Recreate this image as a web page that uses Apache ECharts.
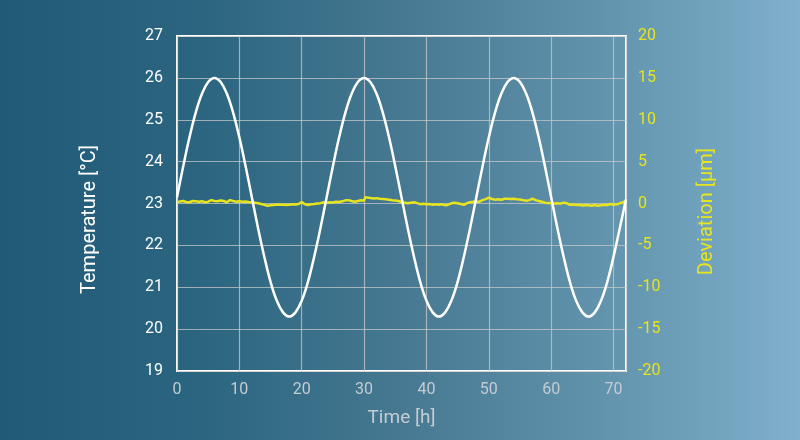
<!DOCTYPE html>
<html>
<head>
<meta charset="utf-8">
<script src="https://cdn.jsdelivr.net/npm/echarts@6/dist/echarts.min.js"></script>
<style>
  html, body { margin: 0; padding: 0; }
  #chart { width: 800px; height: 440px; }
</style>
</head>
<body>
<div id="chart"></div>
<script>
// temperature (0..72 h)
var hours = [
  0, 1, 2, 3, 4, 5, 6, 7, 8, 9, 10, 11, 12, 13, 14, 15, 16, 17, 18, 19, 20, 21, 22, 23,
  24, 25, 26, 27, 28, 29, 30, 31, 32, 33, 34, 35, 36, 37, 38, 39, 40, 41, 42, 43, 44, 45, 46, 47,
  48, 49, 50, 51, 52, 53, 54, 55, 56, 57, 58, 59, 60, 61, 62, 63, 64, 65, 66, 67, 68, 69, 70, 71, 72
];
var temperature = [
  23.15, 23.89, 24.58, 25.17, 25.62, 25.90, 26.00, 25.90, 25.62, 25.17, 24.58, 23.89,
  23.15, 22.41, 21.73, 21.13, 20.68, 20.40, 20.30, 20.40, 20.68, 21.13, 21.73, 22.41,
  23.15, 23.89, 24.58, 25.17, 25.62, 25.90, 26.00, 25.90, 25.62, 25.17, 24.58, 23.89,
  23.15, 22.41, 21.73, 21.13, 20.68, 20.40, 20.30, 20.40, 20.68, 21.13, 21.73, 22.41,
  23.15, 23.89, 24.58, 25.17, 25.62, 25.90, 26.00, 25.90, 25.62, 25.17, 24.58, 23.89,
  23.15, 22.41, 21.73, 21.13, 20.68, 20.40, 20.30, 20.40, 20.68, 21.13, 21.73, 22.41,
  23.10
];

// deviation samples (µm), roughly every half hour
var devTime = [
  0, 0.5, 1, 1.5, 2, 2.5, 3, 3.5, 4, 4.5, 5, 5.5, 6, 6.5, 7, 7.5, 8, 8.5, 9, 9.5,
  10, 10.5, 11, 11.5, 12, 12.5, 13, 13.5, 14, 14.5, 15, 15.5, 16, 16.5, 17, 17.5, 18, 18.5, 19, 19.5,
  20, 20.5, 21, 21.5, 22, 22.5, 23, 23.5, 24, 24.5, 25, 25.5, 26, 26.5, 27, 27.5, 28, 28.5, 29, 29.5,
  30, 30.2, 30.5, 31, 31.5, 32, 32.5, 33, 33.5, 34, 34.5, 35, 35.5, 36, 36.5, 37, 37.5, 38, 38.5, 39, 39.5,
  40, 40.5, 41, 41.5, 42, 42.5, 43, 43.5, 44, 44.5, 45, 45.5, 46, 46.5, 47, 47.5, 48, 48.5, 49, 49.5,
  50, 50.5, 51, 51.5, 52, 52.5, 53, 53.5, 54, 54.5, 55, 55.5, 56, 56.5, 57, 57.5, 58, 58.5, 59, 59.5,
  60, 60.5, 61, 61.5, 62, 62.5, 63, 63.5, 64, 64.5, 65, 65.5, 66, 66.5, 67, 67.5, 68, 68.5, 69, 69.5,
  70, 70.5, 71, 71.5, 72
];
var deviation = [
  0.15, 0.25, 0.30, 0.18, 0.15, 0.30, 0.26, 0.20, 0.28, 0.15, 0.22, 0.40, 0.30, 0.26, 0.36, 0.30, 0.15, 0.40, 0.30, 0.22,
  0.26, 0.20, 0.24, 0.18, 0.14, 0.08, 0.02, -0.06, -0.16, -0.26, -0.20, -0.18, -0.12, -0.16, -0.14, -0.18, -0.14, -0.10, -0.12, -0.06,
  0.18, -0.10, -0.18, -0.08, -0.06, 0.00, 0.04, 0.14, 0.10, 0.16, 0.12, 0.22, 0.18, 0.26, 0.38, 0.40, 0.30, 0.22, 0.30, 0.38,
  0.34, 0.74, 0.62, 0.66, 0.60, 0.64, 0.56, 0.54, 0.50, 0.46, 0.40, 0.36, 0.30, 0.18, 0.10, 0.02, 0.10, 0.16, 0.04, -0.08, -0.04,
  -0.10, -0.06, -0.16, -0.10, -0.14, -0.10, -0.20, -0.14, 0.02, 0.10, 0.02, -0.06, -0.16, 0.04, 0.14, 0.20, 0.24, 0.22, 0.40, 0.52,
  0.70, 0.54, 0.46, 0.50, 0.44, 0.56, 0.58, 0.54, 0.56, 0.50, 0.48, 0.40, 0.32, 0.40, 0.58, 0.40, 0.30, 0.22, 0.10, 0.06,
  0.02, 0.00, 0.02, -0.02, 0.10, 0.04, -0.16, -0.12, -0.18, -0.14, -0.24, -0.18, -0.22, -0.26, -0.18, -0.26, -0.20, -0.14, -0.18, -0.06,
  -0.14, -0.10, 0.02, 0.16, 0.28
];

var tempTicks = [19, 27, 1];
var devTicks = [-20, 20, 5];
var timeTicks = [0, 72, 10];

var FONT = 'Roboto';
var YELLOW = '#e6e41e';
var GRIDLINE = 'rgba(200,200,200,0.75)';

var chart = echarts.init(document.getElementById('chart'));

var option = {
  backgroundColor: new echarts.graphic.LinearGradient(0, 0, 1, 0, [
    { offset: 0, color: '#215a77' },
    { offset: 0.25, color: '#2b6580' },
    { offset: 0.5, color: '#467891' },
    { offset: 0.75, color: '#6193ac' },
    { offset: 1, color: '#80b0cc' }
  ]),
  animation: false,
  grid: {
    left: 177, right: 174, top: 36, bottom: 69,
    show: true,
    borderColor: '#ffffff',
    borderWidth: 2,
    backgroundColor: 'transparent'
  },
  xAxis: {
    type: 'value',
    min: timeTicks[0], max: timeTicks[1], interval: timeTicks[2],
    name: 'Time [h]',
    nameLocation: 'middle',
    nameGap: 38,
    nameTextStyle: { color: '#c4ccd2', fontFamily: FONT, fontSize: 19 },
    axisLine: { show: false },
    axisTick: { show: false },
    axisLabel: { color: '#c4ccd2', fontFamily: FONT, fontSize: 16, margin: 11, showMaxLabel: false },
    splitLine: { show: true, lineStyle: { color: GRIDLINE, width: 1.2 } }
  },
  yAxis: [{
    type: 'value',
    min: tempTicks[0], max: tempTicks[1], interval: tempTicks[2],
    name: 'Temperature [°C]',
    nameLocation: 'middle',
    nameGap: 77,
    // pushed a bit down, like the original
    nameTextStyle: { color: '#ffffff', fontFamily: FONT, fontSize: 20, padding: [0, 32, 0, 0] },
    axisLine: { show: false },
    axisTick: { show: false },
    axisLabel: { color: '#ffffff', fontFamily: FONT, fontSize: 16, margin: 14 },
    splitLine: { show: true, lineStyle: { color: GRIDLINE, width: 1.2 } }
  }, {
    type: 'value',
    min: devTicks[0], max: devTicks[1], interval: devTicks[2],
    name: 'Deviation [µm]',
    nameLocation: 'middle',
    nameGap: 71,
    nameTextStyle: { color: YELLOW, fontFamily: FONT, fontSize: 20, padding: [0, 16, 0, 0] },
    axisLine: { show: false },
    axisTick: { show: false },
    axisLabel: { color: YELLOW, fontFamily: FONT, fontSize: 16, margin: 12 },
    splitLine: { show: false }
  }],
  series: [{
    type: 'line',
    yAxisIndex: 1,
    data: devTime.map(function (t, i) { return [t, deviation[i]]; }),
    showSymbol: false,
    lineStyle: { color: YELLOW, width: 2.5 },
    z: 3
  }, {
    type: 'line',
    yAxisIndex: 0,
    data: hours.map(function (h, i) { return [h, temperature[i]]; }),
    smooth: 0.4,
    showSymbol: false,
    lineStyle: { color: '#ffffff', width: 2.5 },
    z: 4
  }]
};

chart.setOption(option);
</script>
</body>
</html>
